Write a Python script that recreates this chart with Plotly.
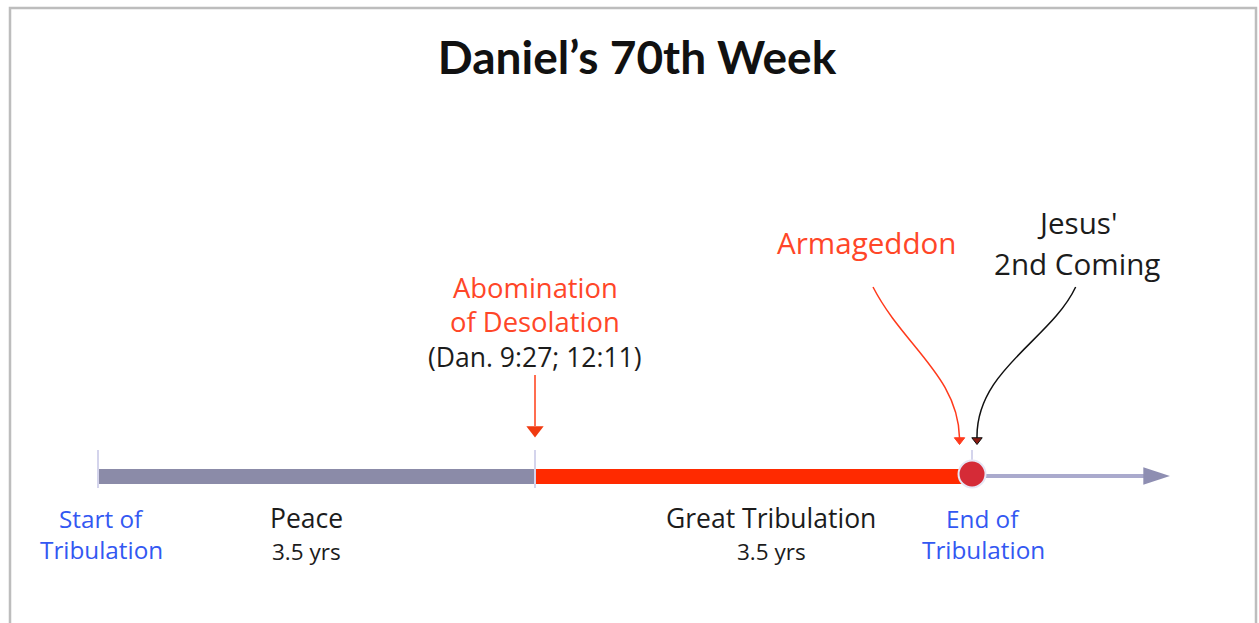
import plotly.graph_objects as go

# ---------------- data ----------------
title_text = "Daniel’s 70th Week"

# phases of the week, in years from the start of the tribulation
phase_names = ["Peace", "Great Tribulation"]
phase_start = [0.0, 3.5]
phase_length = [3.5, 3.5]
phase_duration_labels = ["3.5 yrs", "3.5 yrs"]
phase_colors = ["#8b8ba8", "#ff2a00"]

# milestones on the line
milestone_years = [0.0, 3.5, 7.0]
start_label_lines = ["Start of", "Tribulation"]
end_label_lines = ["End of", "Tribulation"]
future_arrow_end = 8.585

# events pointing at the line
abomination_year = 3.5
abomination_lines = ["Abomination", "of Desolation", "(Dan. 9:27; 12:11)"]
armageddon_label = "Armageddon"
coming_lines = ["Jesus'", "2nd Coming"]
# connector control points (year, height above line in px)
armageddon_curve_x = [6.207, 6.45, 6.89, 6.90]
armageddon_curve_y = [189, 130, 100, 38]
coming_curve_x = [7.83, 7.63, 7.03, 7.04]
coming_curve_y = [189, 136, 106, 38]

# ---------------- style ----------------
FONT = "Open Sans"
TFONT = "Lato"
BLUE = "#3358f2"
RED_TXT = "#ff4628"
DARK = "#1c1c1c"
PX_PER_YEAR = 124.86
X0_PX = 98
LINE_PX = 476
W, H = 1259, 623

x_range = [-X0_PX / PX_PER_YEAR, (W - X0_PX) / PX_PER_YEAR]
y_range = [LINE_PX - H, LINE_PX]

fig = go.Figure()

# outer frame
fig.add_shape(type="rect", xref="paper", yref="paper",
              x0=10 / W, x1=1256 / W, y0=-4 / H, y1=1 - 8 / H,
              line=dict(color="#bdbdbd", width=2.5), layer="above")

# phase bars
fig.add_trace(go.Bar(
    orientation="h", base=phase_start, x=phase_length, y=[0, 0],
    width=15, marker=dict(color=phase_colors, line=dict(width=0)),
    hoverinfo="skip", showlegend=False))

# future arrow line
fig.add_trace(go.Scatter(
    x=[milestone_years[2], future_arrow_end - 0.1], y=[0, 0], mode="lines",
    line=dict(color="#aaaacd", width=4), hoverinfo="skip", showlegend=False))
fig.add_trace(go.Scatter(
    x=[future_arrow_end], y=[0], mode="markers",
    marker=dict(symbol="arrow", angle=90, size=28, color="#8e8eb2",
                line=dict(width=0)),
    hoverinfo="skip", showlegend=False))

# ticks
tick_x, tick_y = [], []
for i, m in enumerate(milestone_years):
    lo = -12 if i < 2 else 14
    tick_x += [m, m, None]
    tick_y += [26, lo, None]
fig.add_trace(go.Scatter(
    x=tick_x, y=tick_y, mode="lines", line=dict(color="#d4d4ec", width=2),
    hoverinfo="skip", showlegend=False))

# end circle
fig.add_trace(go.Scatter(
    x=[milestone_years[2]], y=[2], mode="markers",
    marker=dict(size=27, color="#d52b37", line=dict(color="#e6e6f4", width=2)),
    hoverinfo="skip", showlegend=False))

# abomination arrow
fig.add_trace(go.Scatter(
    x=[abomination_year, abomination_year], y=[101, 50], mode="lines",
    line=dict(color="#ff6d50", width=2), hoverinfo="skip", showlegend=False))
fig.add_trace(go.Scatter(
    x=[abomination_year], y=[46], mode="markers",
    marker=dict(symbol="triangle-down", size=15, color="#f03a10"),
    hoverinfo="skip", showlegend=False))

# curved connectors
def bez_path(xs, ys):
    return "M {},{} C {},{} {},{} {},{}".format(
        xs[0], ys[0], xs[1], ys[1], xs[2], ys[2], xs[3], ys[3])

fig.add_shape(type="path", xref="x", yref="y",
              path=bez_path(armageddon_curve_x, armageddon_curve_y),
              line=dict(color="#ff3a1c", width=1.5))
fig.add_shape(type="path", xref="x", yref="y",
              path=bez_path(coming_curve_x, coming_curve_y),
              line=dict(color="#111111", width=1.5))
fig.add_trace(go.Scatter(
    x=[armageddon_curve_x[3], coming_curve_x[3]], y=[36, 36], mode="markers",
    marker=dict(symbol="triangle-down", size=9,
                color=["#ff3a1c", "#8a1a10"],
                line=dict(color=["#ff3a1c", "#111111"], width=1)),
    hoverinfo="skip", showlegend=False))

# ---------------- text ----------------
def txt(x, y, s, color, size):
    fig.add_annotation(x=x, y=y, xref="x", yref="y", text=s, showarrow=False,
                       font=dict(family=FONT, size=size, color=color),
                       xanchor="center", yanchor="middle", align="center")

for lines, xm in ((start_label_lines, milestone_years[0] + 0.03),
                  (end_label_lines, milestone_years[2] + 0.09)):
    txt(xm, LINE_PX - 518, lines[0], BLUE, 24.3)
    txt(xm, LINE_PX - 549, lines[1], BLUE, 24.3)

label_x = [1.67, 5.39]
for lx, name, dur in zip(label_x, phase_names, phase_duration_labels):
    txt(lx, LINE_PX - 518, name, DARK, 26.5)
    txt(lx, LINE_PX - 551, dur, DARK, 22.5)

ab_y = [287, 321, 357]
ab_c = [RED_TXT, RED_TXT, DARK]
ab_s = [27.4, 27.4, 26.5]
for s, yy, c, sz in zip(abomination_lines, ab_y, ab_c, ab_s):
    txt(abomination_year, LINE_PX - yy, s, c, sz)
txt(6.16, LINE_PX - 242, armageddon_label, RED_TXT, 29.6)
txt(7.84, LINE_PX - 222, coming_lines[0], DARK, 29.6)
txt(7.84, LINE_PX - 263, coming_lines[1], DARK, 29.6)

fig.update_layout(
    width=W, height=H, margin=dict(l=0, r=0, t=0, b=0),
    paper_bgcolor="white", plot_bgcolor="white",
    barmode="overlay", bargap=0,
    xaxis=dict(range=x_range, visible=False, fixedrange=True),
    yaxis=dict(range=y_range, visible=False, fixedrange=True),
    title=dict(text=title_text, x=0.506, xanchor="center", y=1 - 58 / H,
               yanchor="middle",
               font=dict(family=TFONT, size=46, color="#111111", weight="bold")),
    showlegend=False,
)

fig.write_html("out.html", config={"displayModeBar": False},
               post_script="document.body.style.margin='0';")
